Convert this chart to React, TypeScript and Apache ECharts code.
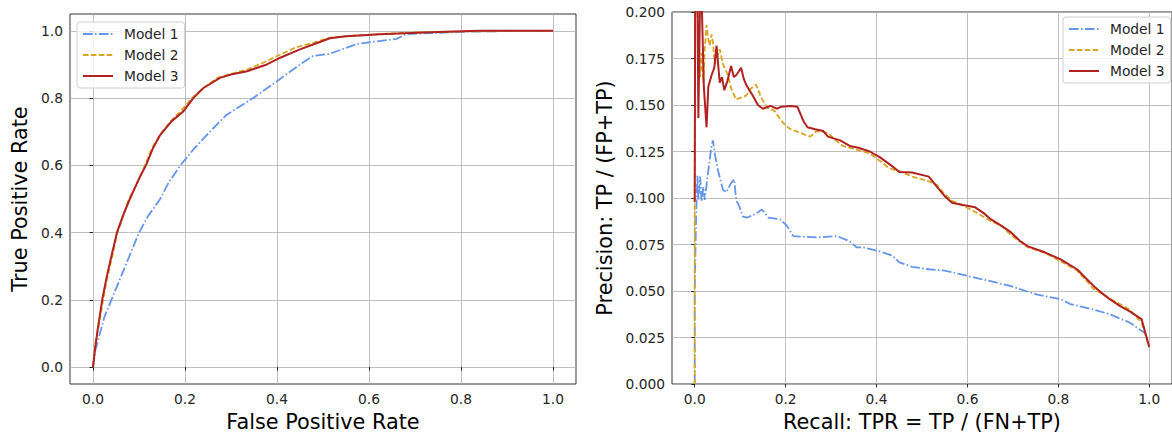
import React, { useEffect, useRef } from "react";
import * as echarts from "echarts";

const MODEL_NAMES = ["Model 1", "Model 2", "Model 3"];
const COLORS = ["#6495ED", "#DAA520", "#B22222"];

const X_TICKS = [0, 0.2, 0.4, 0.6, 0.8, 1.0];
const ROC_Y_TICKS = [0, 0.2, 0.4, 0.6, 0.8, 1.0];

// ROC curves: [FPR, TPR]
const rocModel1: number[][] = [
  [0, 0], [0.005, 0.05], [0.015, 0.1], [0.025, 0.15], [0.04, 0.2], [0.055, 0.25], [0.07, 0.3],
  [0.085, 0.35], [0.1, 0.4], [0.12, 0.45], [0.146, 0.5], [0.165, 0.55], [0.19, 0.6], [0.22, 0.65],
  [0.254, 0.7], [0.29, 0.75], [0.348, 0.8], [0.4, 0.85], [0.42, 0.87], [0.45, 0.9], [0.478, 0.925],
  [0.515, 0.932], [0.574, 0.961], [0.66, 0.976], [0.68, 0.99], [0.8, 0.997], [0.93, 1.0], [1, 1],
];
const rocModel2: number[][] = [
  [0, 0], [0.005, 0.07], [0.012, 0.12], [0.022, 0.2], [0.03, 0.26], [0.042, 0.33], [0.053, 0.4],
  [0.066, 0.45], [0.078, 0.5], [0.09, 0.53], [0.1, 0.56], [0.113, 0.6], [0.128, 0.65], [0.145, 0.69],
  [0.168, 0.73], [0.19, 0.76], [0.215, 0.8], [0.24, 0.83], [0.27, 0.86], [0.3, 0.872], [0.335, 0.885],
  [0.37, 0.905], [0.4, 0.925], [0.44, 0.95], [0.48, 0.965], [0.515, 0.98], [0.56, 0.985], [0.62, 0.99],
  [0.7, 0.995], [0.8, 0.998], [1, 1],
];
const rocModel3: number[][] = [
  [0, 0], [0.005, 0.06], [0.01, 0.11], [0.02, 0.2], [0.03, 0.27], [0.04, 0.33], [0.052, 0.4],
  [0.065, 0.45], [0.08, 0.5], [0.09, 0.53], [0.1, 0.56], [0.115, 0.6], [0.13, 0.65], [0.146, 0.69],
  [0.17, 0.73], [0.196, 0.76], [0.218, 0.8], [0.24, 0.83], [0.276, 0.86], [0.3, 0.87], [0.335, 0.88],
  [0.378, 0.9], [0.407, 0.92], [0.45, 0.945], [0.48, 0.96], [0.515, 0.978], [0.55, 0.984],
  [0.624, 0.99], [0.733, 0.996], [0.84, 1.0], [1, 1],
];

// Precision-recall curves: [Recall, Precision]
const prModel1: number[][] = [
  [0, 0], [0, 0.05], [0.003, 0.09], [0.006, 0.112], [0.008, 0.099], [0.012, 0.1115], [0.015, 0.098],
  [0.019, 0.106], [0.022, 0.099], [0.03, 0.115], [0.037, 0.128], [0.04, 0.131], [0.044, 0.124],
  [0.051, 0.115], [0.062, 0.1045], [0.069, 0.103], [0.08, 0.108], [0.087, 0.11], [0.091, 0.099],
  [0.098, 0.0955], [0.106, 0.09], [0.116, 0.0895], [0.13, 0.091], [0.148, 0.0938], [0.162, 0.0895],
  [0.188, 0.0885], [0.203, 0.085], [0.217, 0.0795], [0.27, 0.0788], [0.313, 0.0795], [0.341, 0.0767],
  [0.356, 0.0735], [0.37, 0.0735], [0.407, 0.0713], [0.435, 0.069], [0.45, 0.0654], [0.478, 0.063],
  [0.515, 0.0617], [0.55, 0.061], [0.602, 0.058], [0.638, 0.056], [0.696, 0.0526], [0.754, 0.048],
  [0.805, 0.0456], [0.826, 0.043], [0.878, 0.04], [0.913, 0.0375], [0.957, 0.033], [0.987, 0.0279],
  [0.996, 0.026],
];
const prModel2: number[][] = [
  [0, 0], [0, 0.1], [0.001, 0.21], [0.004, 0.21], [0.008, 0.19], [0.012, 0.165], [0.015, 0.178],
  [0.019, 0.162], [0.022, 0.18], [0.026, 0.193], [0.03, 0.185], [0.033, 0.182], [0.037, 0.188],
  [0.04, 0.184], [0.044, 0.172], [0.048, 0.175], [0.055, 0.18], [0.062, 0.172], [0.068, 0.169],
  [0.073, 0.166], [0.08, 0.159], [0.091, 0.153], [0.102, 0.154], [0.113, 0.155], [0.124, 0.159],
  [0.135, 0.161], [0.146, 0.154], [0.16, 0.1485], [0.175, 0.147], [0.189, 0.142], [0.2, 0.139],
  [0.211, 0.137], [0.233, 0.135], [0.254, 0.133], [0.268, 0.136], [0.293, 0.135], [0.31, 0.131],
  [0.326, 0.128], [0.355, 0.126], [0.385, 0.124], [0.407, 0.12], [0.428, 0.116], [0.455, 0.114],
  [0.478, 0.1115], [0.515, 0.109], [0.533, 0.107], [0.55, 0.102], [0.566, 0.0985], [0.59, 0.096],
  [0.617, 0.0925], [0.652, 0.0875], [0.675, 0.085], [0.696, 0.08], [0.733, 0.0735], [0.77, 0.0705],
  [0.805, 0.066], [0.841, 0.061], [0.86, 0.056], [0.878, 0.051], [0.913, 0.046], [0.957, 0.04],
  [0.983, 0.033], [1.0, 0.02],
];
const prModel3: number[][] = [
  [0, 0.098], [0.001, 0.21], [0.006, 0.21], [0.008, 0.143], [0.012, 0.21], [0.016, 0.2], [0.02, 0.16],
  [0.026, 0.138], [0.03, 0.16], [0.037, 0.166], [0.043, 0.17], [0.048, 0.182], [0.055, 0.162],
  [0.06, 0.165], [0.065, 0.158], [0.072, 0.163], [0.08, 0.171], [0.086, 0.165], [0.091, 0.166],
  [0.097, 0.168], [0.102, 0.17], [0.108, 0.164], [0.113, 0.161], [0.12, 0.158], [0.128, 0.155],
  [0.139, 0.15], [0.15, 0.148], [0.167, 0.1495], [0.18, 0.148], [0.19, 0.149], [0.211, 0.1495],
  [0.226, 0.149], [0.233, 0.145], [0.24, 0.141], [0.248, 0.138], [0.265, 0.137], [0.283, 0.136],
  [0.293, 0.133], [0.32, 0.131], [0.341, 0.128], [0.36, 0.127], [0.385, 0.125], [0.407, 0.122],
  [0.435, 0.117], [0.45, 0.114], [0.478, 0.1137], [0.515, 0.1115], [0.533, 0.106], [0.55, 0.101],
  [0.566, 0.0975], [0.59, 0.0962], [0.617, 0.095], [0.635, 0.092], [0.652, 0.0885], [0.675, 0.085],
  [0.696, 0.0815], [0.715, 0.077], [0.733, 0.074], [0.77, 0.0708], [0.805, 0.067], [0.825, 0.064],
  [0.841, 0.0617], [0.86, 0.057], [0.878, 0.0526], [0.895, 0.049], [0.913, 0.0456], [0.935, 0.042],
  [0.957, 0.039], [0.983, 0.0349], [1.0, 0.0198],
];

const ROC_DATA = [rocModel1, rocModel2, rocModel3];
const PR_DATA = [prModel1, prModel2, prModel3];

const FONT = "DejaVu Sans";
const DASHES: any[] = [[9.6, 2.4, 1.5, 2.4], [5.5, 2.4], "solid"];
const WIDTHS = [1.8, 1.8, 2];

export default function App() {
  const ref = useRef<HTMLDivElement>(null);
  useEffect(() => {
    if (!ref.current) return;
    const chart = echarts.init(ref.current, null, { renderer: "svg" });

    const tickLabel = { fontFamily: FONT, fontSize: 13.8, color: "#262626" };
    const axisTick = (vals: number[]) => ({
      show: true,
      inside: false,
      length: 3.5,
      lineStyle: { color: "#000", width: 0.8 },
      customValues: vals,
    });
    const splitLine = { show: true, lineStyle: { color: "#b0b0b0", width: 0.8 } };
    const nameStyle = { fontFamily: FONT, fontSize: 20.8, color: "#000" };

    const legend = (left: number, top: number) => ({
      data: MODEL_NAMES,
      orient: "vertical",
      left,
      top,
      itemWidth: 30,
      itemHeight: 14,
      itemGap: 7,
      padding: [5, 6, 5, 5],
      borderColor: "#d0d0d0",
      borderWidth: 1,
      borderRadius: 3,
      backgroundColor: "rgba(255,255,255,0.8)",
      selectedMode: false,
      itemStyle: { color: "transparent", borderColor: "transparent", borderWidth: 0, opacity: 0 },
      textStyle: { fontFamily: FONT, fontSize: 13.8, color: "#262626", padding: [0, 0, 0, 6] },
    });

    const series: any[] = [];
    ROC_DATA.forEach((d, i) =>
      series.push({
        type: "line",
        name: MODEL_NAMES[i],
        xAxisIndex: 0,
        yAxisIndex: 0,
        data: d,
        showSymbol: false,
        symbol: "none",
        lineStyle: { color: COLORS[i], width: WIDTHS[i], type: DASHES[i] },
        itemStyle: { color: COLORS[i] },
      })
    );
    PR_DATA.forEach((d, i) =>
      series.push({
        type: "line",
        name: MODEL_NAMES[i],
        xAxisIndex: 1,
        yAxisIndex: 1,
        data: d,
        showSymbol: false,
        symbol: "none",
        clip: true,
        lineStyle: { color: COLORS[i], width: WIDTHS[i], type: DASHES[i] },
        itemStyle: { color: COLORS[i] },
      })
    );

    chart.setOption({
      animation: false,
      backgroundColor: "#fff",
      legend: [legend(77, 22), legend(1063, 17)],
      grid: [
        { left: 70, top: 14, width: 506, height: 373, show: true, borderColor: "#000", borderWidth: 0.8, backgroundColor: "transparent" },
        { left: 672, top: 12, width: 504, height: 373, show: true, borderColor: "#000", borderWidth: 0.8, backgroundColor: "transparent" },
      ],
      xAxis: [
        {
          type: "value", gridIndex: 0, min: -0.05, max: 1.05,
          axisLine: { show: false },
          axisTick: axisTick(X_TICKS),
          axisLabel: { ...tickLabel, customValues: X_TICKS, formatter: (v: number) => v.toFixed(1), margin: 8 },
          splitLine,
          name: "False Positive Rate", nameLocation: "middle", nameGap: 27, nameTextStyle: nameStyle,
        },
        {
          type: "value", gridIndex: 1, min: -0.05, max: 1.05,
          axisLine: { show: false },
          axisTick: axisTick(X_TICKS),
          axisLabel: { ...tickLabel, customValues: X_TICKS, formatter: (v: number) => v.toFixed(1), margin: 8 },
          splitLine,
          name: "Recall: TPR = TP / (FN+TP)", nameLocation: "middle", nameGap: 27, nameTextStyle: nameStyle,
        },
      ],
      yAxis: [
        {
          type: "value", gridIndex: 0, min: -0.05, max: 1.05,
          axisLine: { show: false },
          axisTick: axisTick(ROC_Y_TICKS),
          axisLabel: { ...tickLabel, customValues: ROC_Y_TICKS, formatter: (v: number) => v.toFixed(1), margin: 7 },
          splitLine,
          name: "True Positive Rate", nameLocation: "middle", nameGap: 40, nameTextStyle: nameStyle,
        },
        {
          type: "value", gridIndex: 1, min: 0, max: 0.2, interval: 0.025,
          axisLine: { show: false },
          axisTick: { show: true, inside: false, length: 3.5, lineStyle: { color: "#000", width: 0.8 } },
          axisLabel: { ...tickLabel, formatter: (v: number) => v.toFixed(3), margin: 7 },
          splitLine,
          name: "Precision: TP / (FP+TP)", nameLocation: "middle", nameGap: 57, nameTextStyle: nameStyle,
        },
      ],
      series,
    });

    return () => chart.dispose();
  }, []);

  return (
    <div
      ref={ref}
      style={{ position: "absolute", left: 0, top: 0, width: 1172, height: 437 }}
    />
  );
}
